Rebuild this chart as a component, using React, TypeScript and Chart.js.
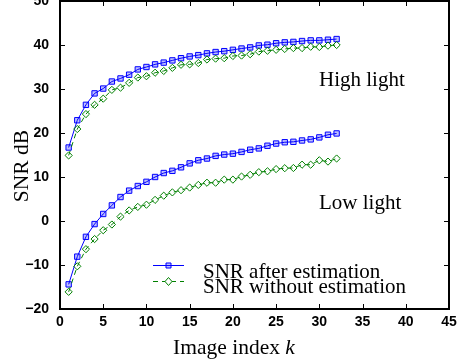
import React, { useEffect, useRef } from "react";
import { Chart, registerables } from "chart.js";

Chart.register(...registerables);

const imageIndex: number[] = Array.from({ length: 32 }, (_, i) => i + 1);

const highAfter: number[] = [
  16.7, 22.9, 26.4, 29.0, 30.1, 31.7, 32.4, 33.25, 34.45, 35.0, 35.6, 36.0, 36.5, 37.0, 37.4, 37.7,
  38.1, 38.4, 38.6, 38.9, 39.2, 39.45, 39.9, 40.07, 40.4, 40.6, 40.7, 40.9, 41.05, 41.05, 41.2, 41.35,
];
const highWithout: number[] = [
  14.9, 20.9, 24.3, 26.4, 27.8, 29.8, 30.3, 31.4, 32.6, 32.9, 33.7, 34.1, 34.8, 35.5, 35.6, 35.9,
  36.7, 36.9, 37.0, 37.5, 37.6, 37.9, 38.5, 38.7, 38.9, 39.1, 39.3, 39.3, 39.6, 39.55, 39.85, 40.0,
];
const lowAfter: number[] = [
  -14.4, -8.1, -3.6, -0.7, 1.6, 3.55, 5.45, 6.9, 7.95, 8.9, 10.0, 10.9, 11.4, 12.2, 13.1, 13.8,
  14.2, 14.8, 15.1, 15.3, 15.7, 16.2, 16.5, 17.1, 17.6, 17.9, 18.0, 18.3, 18.55, 19.0, 19.6, 19.9,
];
const lowWithout: number[] = [
  -16.1, -10.3, -6.4, -4.1, -2.1, -0.8, 1.0, 2.4, 3.2, 3.7, 4.8, 5.75, 6.5, 7.0, 7.6, 8.2,
  8.7, 8.7, 9.4, 9.4, 10.1, 10.5, 11.1, 11.3, 11.8, 12.0, 12.05, 12.8, 12.8, 13.8, 13.5, 14.2,
];

const legendLabels: string[] = ["SNR after estimation", "SNR without estimation"];
const regionLabels: string[] = ["High light", "Low light"];
const xTitle = "Image index ";
const xTitleItalic = "k";
const yTitle = "SNR dB";

const BLUE = "#0000ff";
const GREEN = "#008000";
const SERIF = "'Liberation Serif', 'Times New Roman', serif";
const SANS = "Liberation Sans";
const SHIFT = 4; // canvas is shifted up by this many pixels

const pts = (ys: number[]) => ys.map((y, i) => ({ x: imageIndex[i], y }));

const decorPlugin = {
  id: "decor",
  afterDraw(chart: any) {
    const ctx = chart.ctx as CanvasRenderingContext2D;
    const { left, right, top, bottom } = chart.chartArea;
    const xs = chart.scales.x;
    const ys = chart.scales.y;
    ctx.save();
    // frame
    ctx.strokeStyle = "#000";
    ctx.lineWidth = 2;
    ctx.strokeRect(left, top, right - left, bottom - top);
    // inward ticks
    ctx.lineWidth = 1;
    const tl = 5;
    ctx.beginPath();
    xs.ticks.forEach((t: any) => {
      const px = Math.round(xs.getPixelForValue(t.value)) + 0.5;
      ctx.moveTo(px, bottom);
      ctx.lineTo(px, bottom - tl);
      ctx.moveTo(px, top);
      ctx.lineTo(px, top + tl);
    });
    ys.ticks.forEach((t: any) => {
      const py = Math.round(ys.getPixelForValue(t.value)) + 0.5;
      ctx.moveTo(left, py);
      ctx.lineTo(left + tl, py);
      ctx.moveTo(right, py);
      ctx.lineTo(right - tl, py);
    });
    ctx.stroke();

    ctx.translate(0, SHIFT);

    // region labels
    ctx.fillStyle = "#000";
    ctx.font = `21px ${SERIF}`;
    ctx.textAlign = "left";
    ctx.textBaseline = "alphabetic";
    ctx.fillText(regionLabels[0], 319, 86);
    ctx.fillText(regionLabels[1], 319, 209);

    // legend
    const lx0 = 153;
    const lx1 = 184;
    const rows = [
      { y: 265, color: BLUE, dash: [] as number[], style: "square" },
      { y: 281, color: GREEN, dash: [5, 4], style: "diamond" },
    ];
    rows.forEach((r, i) => {
      ctx.strokeStyle = r.color;
      ctx.lineWidth = 1;
      ctx.setLineDash(r.dash);
      ctx.beginPath();
      ctx.moveTo(lx0, r.y + 0.5);
      ctx.lineTo(lx1, r.y + 0.5);
      ctx.stroke();
      ctx.setLineDash([]);
      const mx = (lx0 + lx1) / 2;
      ctx.beginPath();
      if (r.style === "square") {
        ctx.rect(mx - 2.5, r.y - 2, 5, 5);
        ctx.fillStyle = "rgba(0,0,255,0.25)";
        ctx.fill();
      } else {
        ctx.moveTo(mx, r.y - 3.5);
        ctx.lineTo(mx + 3.5, r.y + 0.5);
        ctx.lineTo(mx, r.y + 4.5);
        ctx.lineTo(mx - 3.5, r.y + 0.5);
        ctx.closePath();
        ctx.fillStyle = "#fff";
        ctx.fill();
      }
      ctx.stroke();
      ctx.fillStyle = "#000";
      ctx.font = `21px ${SERIF}`;
      ctx.fillText(legendLabels[i], 203, i === 0 ? 278 : 293);
    });

    // x title
    ctx.font = `21.5px ${SERIF}`;
    const w1 = ctx.measureText(xTitle).width;
    ctx.font = `italic 21.5px ${SERIF}`;
    const w2 = ctx.measureText(xTitleItalic).width;
    const cx = 234;
    const sx = cx - (w1 + w2) / 2;
    ctx.font = `21.5px ${SERIF}`;
    ctx.fillText(xTitle, sx, 354);
    ctx.font = `italic 21.5px ${SERIF}`;
    ctx.fillText(xTitleItalic, sx + w1, 354);

    // y title
    ctx.save();
    ctx.translate(28, 166);
    ctx.rotate(-Math.PI / 2);
    ctx.font = `21.5px ${SERIF}`;
    ctx.textAlign = "center";
    ctx.fillText(yTitle, 0, 0);
    ctx.restore();

    ctx.restore();
  },
};

export default function App() {
  const ref = useRef<HTMLCanvasElement | null>(null);

  useEffect(() => {
    if (!ref.current) return;
    const line = (data: number[], color: string, shape: string, dash: number[], r: number, fill: string) => ({
      data: pts(data),
      borderColor: color,
      backgroundColor: fill,
      borderWidth: 1,
      borderDash: dash,
      pointStyle: shape,
      pointRadius: r,
      pointBorderWidth: 1,
      pointBorderColor: color,
      pointBackgroundColor: fill,
      tension: 0,
      fill: false,
    });
    const chart = new Chart(ref.current, {
      type: "line",
      data: {
        datasets: [
          line(highWithout, GREEN, "rectRot", [5, 4], 3.6, "rgba(255,255,255,0)"),
          line(lowWithout, GREEN, "rectRot", [5, 4], 3.6, "rgba(255,255,255,0)"),
          line(highAfter, BLUE, "rect", [], 3.8, "rgba(0,0,255,0.25)"),
          line(lowAfter, BLUE, "rect", [], 3.8, "rgba(0,0,255,0.25)"),
        ] as any,
      },
      options: {
        animation: false,
        responsive: false,
        maintainAspectRatio: false,
        layout: { padding: { left: 0, right: 12, top: -2, bottom: 0 } },
        plugins: { legend: { display: false }, tooltip: { enabled: false } },
        scales: {
          x: {
            type: "linear",
            min: 0,
            max: 45,
            grid: { display: false },
            border: { display: false },
            ticks: {
              stepSize: 5,
              color: "#000",
              padding: -3,
              maxRotation: 0,
              font: { family: SANS, size: 14, weight: 700 },
            },
            afterFit: (s: any) => {
              s.height = 55;
              s.paddingLeft = 0;
              s.paddingRight = 0;
            },
          },
          y: {
            type: "linear",
            min: -20,
            max: 50,
            grid: { display: false },
            border: { display: false },
            ticks: {
              stepSize: 10,
              color: "#000",
              padding: 3,
              font: { family: SANS, size: 14, weight: 700 },
              callback: (v: any) => String(v).replace("-", "\u2212"),
            },
            afterFit: (s: any) => {
              s.width = 60;
              s.paddingTop = 0;
              s.paddingBottom = 0;
            },
          },
        },
      },
      plugins: [decorPlugin],
    });
    return () => chart.destroy();
  }, []);

  return (
    <div style={{ position: "absolute", left: 0, top: 0, width: 461, height: 364, overflow: "hidden", background: "#fff" }}>
      <canvas
        ref={ref}
        width={461}
        height={364 + SHIFT}
        style={{ display: "block", position: "absolute", left: 0, top: -SHIFT }}
      />
    </div>
  );
}
